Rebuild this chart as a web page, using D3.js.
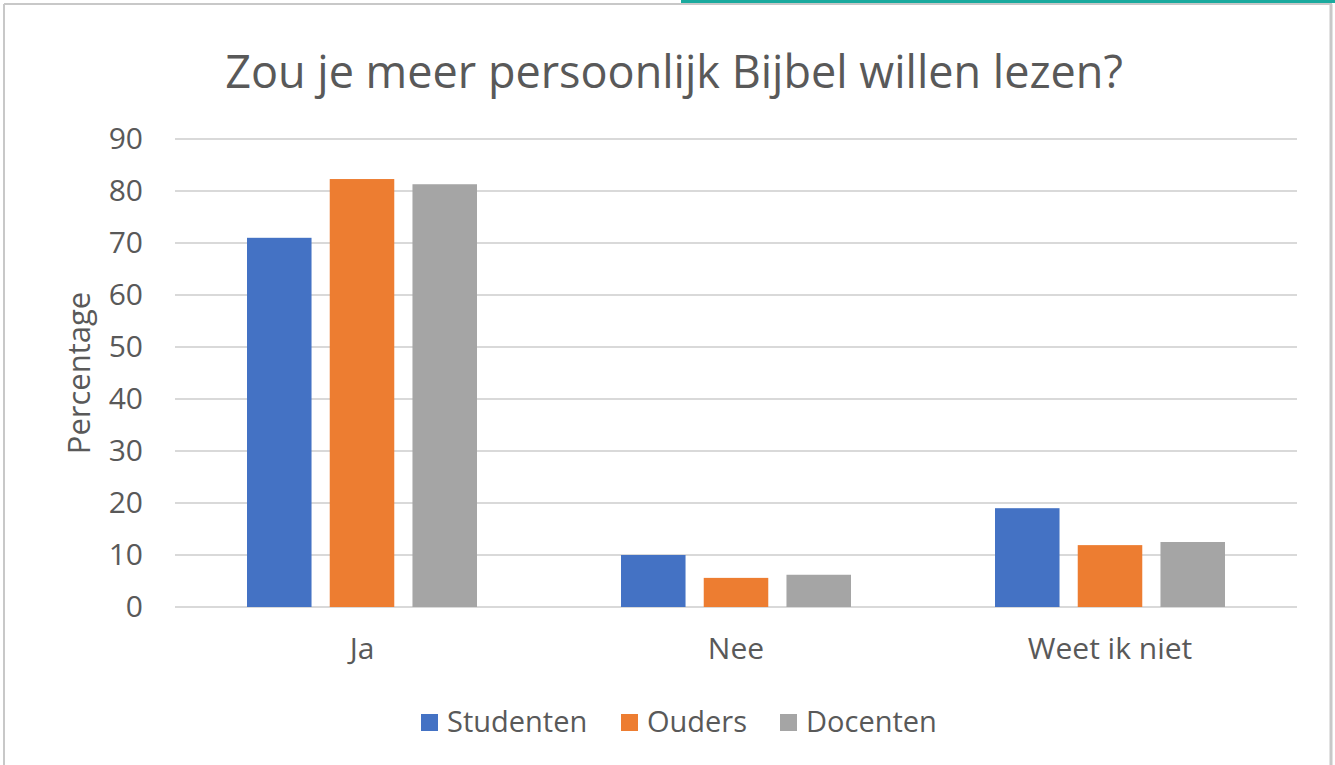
<!DOCTYPE html>
<html>
<head>
<meta charset="utf-8">
<script src="https://cdn.jsdelivr.net/npm/d3@7"></script>
<style>
  body { margin: 0; background: #fff; }
  text { font-family: "Open Sans", sans-serif; fill: #595959; }
</style>
</head>
<body>
<div id="chart"></div>
<script>
// data
var categories = ["Ja", "Nee", "Weet ik niet"];
var groups = ["Studenten", "Ouders", "Docenten"];
var studenten = [71, 10, 19];
var ouders = [82.3, 5.6, 11.9];
var docenten = [81.3, 6.2, 12.5];
var yTicks = [0, 10, 20, 30, 40, 50, 60, 70, 80, 90];
var colors = ["#4472C4", "#ED7D31", "#A5A5A5"];

var W = 1335, H = 765;
var margin = {left: 175, right: 38, top: 139, bottom: 158};

var svg = d3.select("#chart").append("svg")
    .attr("width", W)
    .attr("height", H);

// frame around the chart
svg.append("rect").attr("x", 0).attr("y", 0).attr("width", W).attr("height", H).attr("fill", "#fff");
svg.append("line").attr("x1", 4).attr("x2", 1332).attr("y1", 4).attr("y2", 4)
    .attr("stroke", "#c8c8c8").attr("stroke-width", 2);
svg.append("line").attr("x1", 4).attr("x2", 4).attr("y1", 4).attr("y2", H)
    .attr("stroke", "#c8c8c8").attr("stroke-width", 2);
svg.append("line").attr("x1", 1331).attr("x2", 1331).attr("y1", 4).attr("y2", H)
    .attr("stroke", "#c8c8c8").attr("stroke-width", 3);
svg.append("rect").attr("x", 681).attr("y", 0).attr("width", W - 681).attr("height", 3)
    .attr("fill", "#1aaa9e");

var rows = groups.map(function(g, i) {
    return {name: g, values: [studenten, ouders, docenten][i]};
});

var x0 = d3.scaleBand()
    .domain(categories)
    .range([margin.left, W - margin.right]);

var x1 = d3.scaleBand()
    .domain(groups)
    .range([0, 230])
    .paddingInner(0.22);

var y = d3.scaleLinear()
    .domain([0, 90])
    .range([H - margin.bottom, margin.top]);

// gridlines
svg.append("g").selectAll("line")
    .data(yTicks)
    .enter().append("line")
    .attr("x1", margin.left)
    .attr("x2", W - margin.right)
    .attr("y1", function(d) { return y(d); })
    .attr("y2", function(d) { return y(d); })
    .attr("stroke", "#d9d9d9")
    .attr("stroke-width", 2);

// y tick labels
var yAxis = svg.append("g")
    .attr("transform", "translate(" + (margin.left - 32) + ",0)")
    .call(d3.axisLeft(y).tickValues(yTicks).tickSize(0).tickPadding(0));
yAxis.select(".domain").remove();
yAxis.selectAll("text")
    .attr("font-size", 30)
    .attr("font-family", "Open Sans, sans-serif")
    .attr("fill", "#595959");

// x category labels
var xAxis = svg.append("g")
    .attr("transform", "translate(0," + (H - margin.bottom) + ")")
    .call(d3.axisBottom(x0).tickSize(0).tickPadding(31));
xAxis.select(".domain").remove();
xAxis.selectAll("text")
    .attr("font-size", 30)
    .attr("font-family", "Open Sans, sans-serif")
    .attr("fill", "#595959");

// bars
categories.forEach(function(cat, ci) {
    var gx = x0(cat) + x0.bandwidth() / 2 - 115;
    svg.append("g")
        .attr("transform", "translate(" + gx + ",0)")
        .selectAll("rect")
        .data(rows)
        .enter().append("rect")
        .attr("x", function(d) { return x1(d.name); })
        .attr("y", function(d) { return y(d.values[ci]); })
        .attr("width", x1.bandwidth())
        .attr("height", function(d) { return y(0) - y(d.values[ci]); })
        .attr("fill", function(d, i) { return colors[i]; });
});

// title
svg.append("text")
    .attr("x", 674)
    .attr("y", 88)
    .attr("text-anchor", "middle")
    .attr("font-size", 45)
    .text("Zou je meer persoonlijk Bijbel willen lezen?");

// y axis title
svg.append("text")
    .attr("transform", "translate(90,373) rotate(-90)")
    .attr("text-anchor", "middle")
    .attr("font-size", 31)
    .text("Percentage");

// legend
var legendX = [421, 621, 780];
var legend = svg.append("g").selectAll("g")
    .data(groups)
    .enter().append("g")
    .attr("transform", function(d, i) { return "translate(" + legendX[i] + ",722)"; });
legend.append("rect")
    .attr("x", 0).attr("y", -8)
    .attr("width", 17).attr("height", 17)
    .attr("fill", function(d, i) { return colors[i]; });
legend.append("text")
    .attr("x", 26)
    .attr("dy", "0.35em")
    .attr("font-size", 29)
    .text(function(d) { return d; });
</script>
</body>
</html>
